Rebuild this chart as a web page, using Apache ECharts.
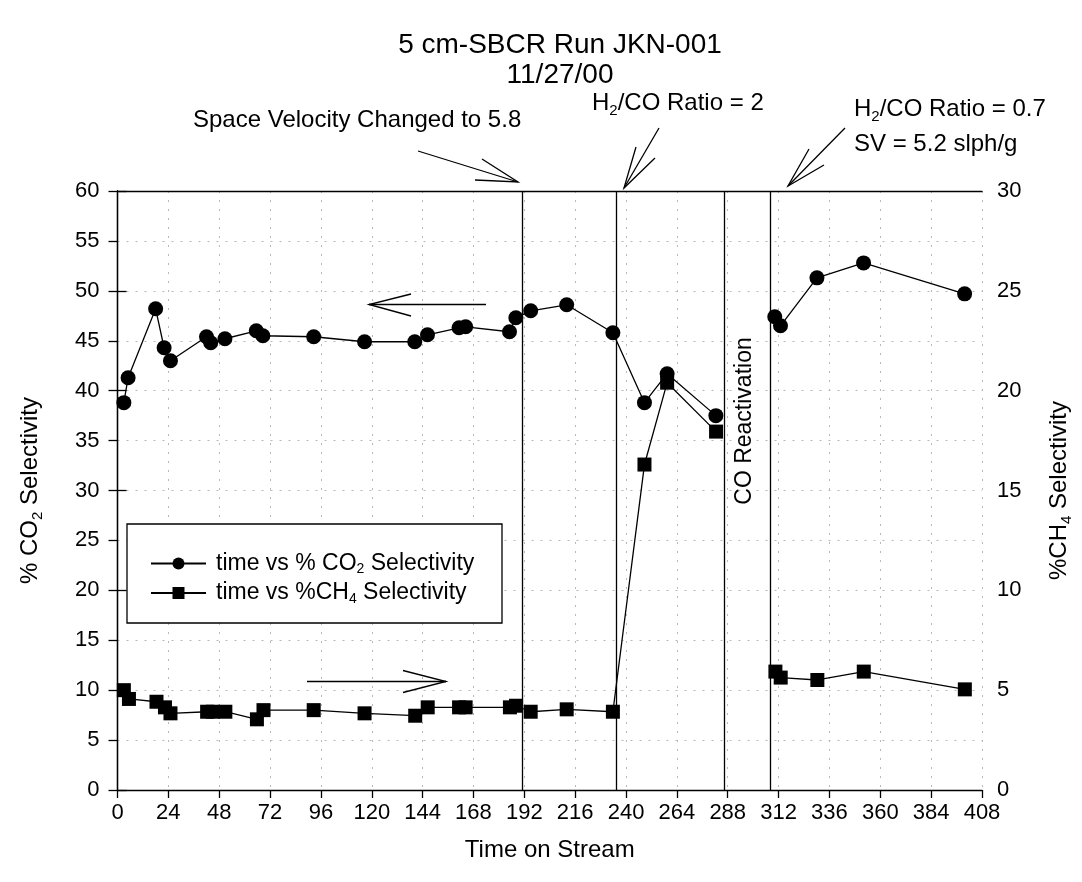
<!DOCTYPE html>
<html>
<head>
<meta charset="utf-8">
<script src="https://cdn.jsdelivr.net/npm/echarts@6/dist/echarts.min.js"></script>
<style>
html,body{margin:0;padding:0;background:#fff;}
#chart{width:1082px;height:882px;}
</style>
</head>
<body>
<div id="chart"></div>
<script>
// ---- data ----
const co2Time = [3, 5, 18, 22, 25, 42, 44, 50.7, 65.5, 68.6, 92.6, 116.6, 140.3, 146.3, 161.2, 164.3, 185, 188, 195, 212, 233.8, 248.7, 259.4, 282.4, 310.2, 312.9, 330.1, 352.1, 399.8];
const co2Sel  = [38.8, 41.3, 48.2, 44.3, 43.0, 45.4, 44.8, 45.2, 46.0, 45.5, 45.4, 44.9, 44.9, 45.6, 46.3, 46.4, 45.9, 47.3, 48.0, 48.6, 45.8, 38.8, 41.7, 37.5, 47.4, 46.5, 51.3, 52.8, 49.7];
const ch4Time = [3, 5.4, 18.4, 22.4, 25, 42.3, 45, 50.9, 65.8, 68.9, 92.6, 116.6, 140.5, 146.4, 161.2, 164.3, 185.2, 188.1, 195, 212, 233.8, 248.7, 259.4, 282.5, 310.5, 313, 330.3, 352.2, 399.9];
const ch4Sel  = [5.0, 4.56, 4.42, 4.14, 3.84, 3.92, 3.92, 3.92, 3.54, 4.0, 4.0, 3.84, 3.72, 4.14, 4.14, 4.14, 4.14, 4.22, 3.92, 4.04, 3.92, 16.3, 20.4, 17.95, 5.93, 5.63, 5.51, 5.93, 5.04];
const reactivationGap = 296;           // line is broken during CO reactivation
const eventTimes = [191, 235.5, 286.5, 308];
const xTicks = {min: 0, max: 408, interval: 24};
const leftTicks = {min: 0, max: 60, interval: 5};
const rightTicks = {min: 0, max: 30, interval: 5};

function pairs(t, v) {
  const out = [];
  for (let i = 0; i < t.length; i++) {
    if (i > 0 && t[i - 1] < reactivationGap && t[i] > reactivationGap) out.push([reactivationGap, '-']);
    out.push([t[i], v[i]]);
  }
  return out;
}

const FONT = 'Liberation Sans, Arial, sans-serif';
const subRich = {
  t: {fontSize: 24, fontFamily: FONT, color: '#000', lineHeight: 30},
  s: {fontSize: 15, fontFamily: FONT, color: '#000', lineHeight: 15, verticalAlign: 'bottom'}
};
const legRich = {
  t: {fontSize: 23, fontFamily: FONT, color: '#000', lineHeight: 26},
  s: {fontSize: 14, fontFamily: FONT, color: '#000', lineHeight: 13, verticalAlign: 'bottom'}
};

const chart = echarts.init(document.getElementById('chart'), null, {renderer: 'canvas'});

function arrow(tip, tail, h1, h2) {
  return [
    {type: 'polyline', shape: {points: [tail, tip]}, style: {stroke: '#000', lineWidth: 1.3, fill: null}, z: 100},
    {type: 'polyline', shape: {points: [h1, tip, h2]}, style: {stroke: '#000', lineWidth: 1.3, fill: null}, z: 100}
  ];
}

const graphics = [].concat(
  [{type: 'rect', shape: {x: 127, y: 524, width: 375, height: 99}, style: {fill: '#fff', stroke: '#000', lineWidth: 1.3}, z: 50}],
  arrow([518, 182], [418, 151], [482, 159], [475, 180]),
  arrow([624, 188], [659, 128], [636, 147], [655, 158]),
  arrow([788, 186], [845, 128], [809, 149], [824, 165]),
  arrow([369, 304.5], [486, 304.5], [411, 294], [411, 316]),
  arrow([446, 681.5], [307, 681.5], [403, 670.5], [403, 692.5]),
  [
    {type: 'text', left: 193, top: 108, style: {text: 'Space Velocity Changed to 5.8', font: '24px ' + FONT, fill: '#000'}, z: 100},
    {type: 'text', left: 592, top: 91, style: {text: '{t|H}{s|2}{t|/CO Ratio = 2}', rich: subRich}, z: 100},
    {type: 'text', left: 854, top: 97, style: {text: '{t|H}{s|2}{t|/CO Ratio = 0.7}', rich: subRich}, z: 100},
    {type: 'text', left: 854, top: 132, style: {text: 'SV = 5.2 slph/g', font: '24px ' + FONT, fill: '#000'}, z: 100},
    {type: 'text', x: 745, y: 421, rotation: Math.PI / 2,
      style: {text: 'CO Reactivation', font: '23px ' + FONT, fill: '#000', align: 'center', verticalAlign: 'middle'}, z: 100}
  ]
);

const axisLineStyle = {color: '#000', width: 1.3};
const dotted = {color: '#b8b8b8', type: [2, 7], width: 1};

chart.setOption({
  backgroundColor: '#fff',
  animation: false,
  title: {
    text: '5 cm-SBCR Run JKN-001\n11/27/00',
    left: 555, top: 25, textAlign: 'center',
    textStyle: {fontFamily: FONT, fontSize: 28, fontWeight: 'normal', color: '#000', lineHeight: 30}
  },
  grid: {left: 117.5, right: 98, top: 191, bottom: 92},
  legend: {
    orient: 'vertical', left: 145, top: 547, itemWidth: 55, itemHeight: 15, itemGap: 5,
    selectedMode: false,
    data: ['co2', 'ch4'],
    formatter: function (n) {
      return n === 'co2' ? '{t|time vs % CO}{s|2}{t| Selectivity}' : '{t|time vs %CH}{s|4}{t| Selectivity}';
    },
    textStyle: {rich: legRich, padding: [0, 0, 0, 5]},
    z: 60
  },
  xAxis: [
    {
      type: 'value', position: 'bottom', min: xTicks.min, max: xTicks.max, interval: xTicks.interval,
      name: 'Time on Stream', nameLocation: 'middle', nameGap: 48,
      nameTextStyle: {fontFamily: FONT, fontSize: 24, color: '#000'},
      axisLine: {show: true, onZero: false, lineStyle: axisLineStyle},
      axisTick: {show: true, inside: false, length: 8, lineStyle: axisLineStyle},
      axisLabel: {fontFamily: FONT, fontSize: 22, color: '#000', margin: 12},
      splitLine: {show: true, lineStyle: dotted}
    },
    {
      type: 'value', position: 'top', min: xTicks.min, max: xTicks.max, interval: xTicks.interval,
      axisLine: {show: true, onZero: false, lineStyle: axisLineStyle},
      axisTick: {show: false}, axisLabel: {show: false}, splitLine: {show: false}
    }
  ],
  yAxis: [
    {
      type: 'value', position: 'left', min: leftTicks.min, max: leftTicks.max, interval: leftTicks.interval,
      name: '{t|% CO}{s|2}{t| Selectivity}', nameLocation: 'middle', nameGap: 72, nameRotate: 90,
      nameTextStyle: {rich: subRich},
      axisLine: {show: true, lineStyle: axisLineStyle},
      axisTick: {show: true, length: 9, lineStyle: axisLineStyle},
      axisLabel: {fontFamily: FONT, fontSize: 22, color: '#000', margin: 18},
      splitLine: {show: true, lineStyle: dotted}
    },
    {
      type: 'value', position: 'right', min: rightTicks.min, max: rightTicks.max, interval: rightTicks.interval,
      name: '{t|%CH}{s|4}{t| Selectivity}', nameLocation: 'middle', nameGap: 62, nameRotate: 90,
      nameTextStyle: {rich: subRich},
      axisLine: {show: true, lineStyle: axisLineStyle},
      axisTick: {show: true, length: 9, lineStyle: axisLineStyle},
      axisLabel: {fontFamily: FONT, fontSize: 22, color: '#000', margin: 15},
      splitLine: {show: false}
    }
  ],
  series: [
    {
      name: 'co2', type: 'line', xAxisIndex: 0, yAxisIndex: 0, data: pairs(co2Time, co2Sel),
      symbol: 'circle', symbolSize: 15, connectNulls: false,
      lineStyle: {color: '#000', width: 1.3}, itemStyle: {color: '#000'},
      z: 10,
      markLine: {
        silent: true, symbol: ['none', 'none'], label: {show: false},
        lineStyle: {color: '#000', width: 1.3, type: 'solid'},
        data: eventTimes.map(function (t) { return {xAxis: t}; })
      }
    },
    {
      name: 'ch4', type: 'line', xAxisIndex: 0, yAxisIndex: 1, data: pairs(ch4Time, ch4Sel),
      symbol: 'rect', symbolSize: 14, connectNulls: false,
      lineStyle: {color: '#000', width: 1.3}, itemStyle: {color: '#000'},
      z: 10
    }
  ],
  graphic: graphics
});
</script>
</body>
</html>
